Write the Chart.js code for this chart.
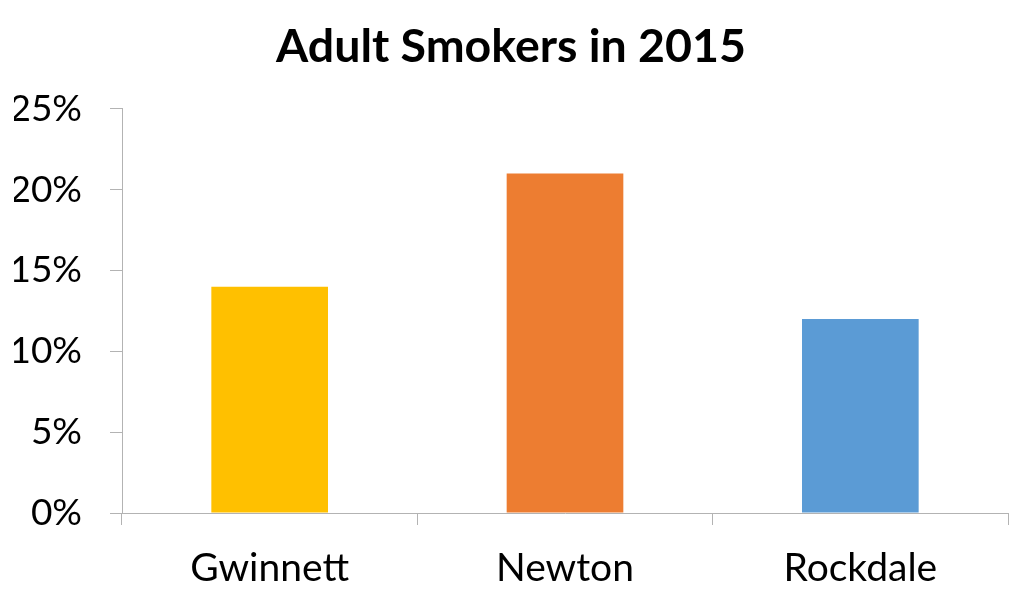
<!DOCTYPE html>
<html>
<head>
<meta charset="utf-8">
<script src="https://cdn.jsdelivr.net/npm/chart.js@4"></script>
<style>
  html, body { margin: 0; padding: 0; background: #fff; }
  #wrap { width: 1024px; height: 600px; }
</style>
</head>
<body>
<div id="wrap"><canvas id="myChart"></canvas></div>
<script>
// 데이터
var counties = ['Gwinnett', 'Newton', 'Rockdale'];
var smokers = [14, 21, 12];
var barColors = ['#FFC000', '#ED7D31', '#5B9BD5'];
var yTicks = [0, 5, 10, 15, 20, 25];

var lineColor = '#b3b3b3';

var chartArea = document.getElementById('myChart').getContext('2d');
var myChart = new Chart(chartArea, {
    type: 'bar',
    data: {
        labels: counties,
        datasets: [{
            label: 'Adult Smokers',
            data: smokers,
            backgroundColor: barColors,
            borderWidth: 0,
            categoryPercentage: 1,
            barPercentage: 0.395
        }]
    },
    options: {
        responsive: true,
        maintainAspectRatio: false,
        animation: false,
        layout: { padding: { left: 14, right: 16, top: 0, bottom: 0 } },
        plugins: {
            legend: { display: false },
            tooltip: { enabled: false },
            title: {
                display: true,
                text: 'Adult Smokers in 2015',
                color: '#000',
                font: { family: 'Lato', size: 46.5, weight: 'bold' },
                padding: { top: 19, bottom: 34 }
            }
        },
        scales: {
            x: {
                grid: {
                    display: true,
                    drawOnChartArea: false,
                    offset: true,
                    tickLength: 12,
                    color: lineColor
                },
                border: { display: true, color: lineColor, width: 1 },
                ticks: {
                    color: '#000',
                    padding: 20,
                    font: { family: 'Lato', size: 39 }
                },
                afterFit: function (scale) { scale.height = 87; }
            },
            y: {
                min: 0,
                max: 25,
                afterBuildTicks: function (scale) {
                    scale.ticks = yTicks.map(function (v) { return { value: v }; });
                },
                grid: {
                    display: true,
                    drawOnChartArea: false,
                    tickLength: 12,
                    color: lineColor
                },
                border: { display: true, color: lineColor, width: 1 },
                ticks: {
                    color: '#000',
                    padding: 28,
                    font: { family: 'Lato', size: 37 },
                    callback: function (v) { return v + '%'; }
                },
                afterFit: function (scale) { scale.width = 108; }
            }
        }
    }
});
</script>
</body>
</html>
